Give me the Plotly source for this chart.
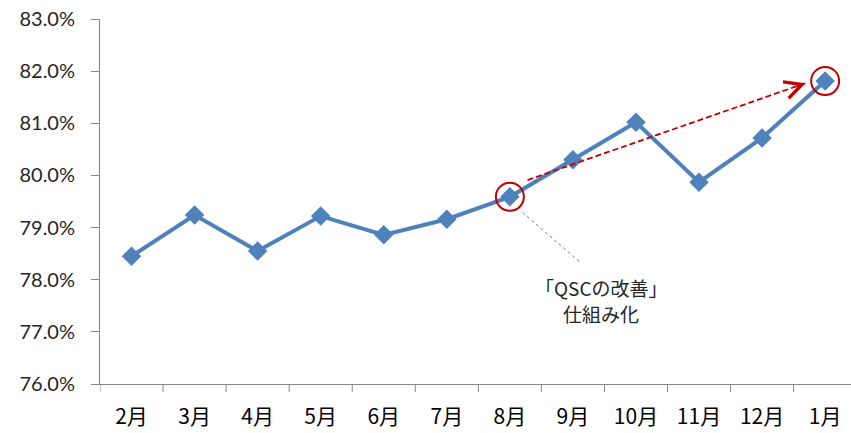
import plotly.graph_objects as go

# Monthly ratio (%) from February through January
months = ["2月", "3月", "4月", "5月", "6月", "7月", "8月", "9月", "10月", "11月", "12月", "1月"]
ratio = [78.45, 79.24, 78.55, 79.22, 78.86, 79.16, 79.59, 80.30, 81.02, 79.87, 80.72, 81.81]

y_ticks = [76, 77, 78, 79, 80, 81, 82, 83]
y_tick_text = [f"{v:.1f}%" for v in y_ticks]

note_lines = ["「QSCの改善」", "仕組み化"]

line_blue = "#4F81BD"
dark_red = "#C00000"
axis_gray = "#868686"

start_i = months.index("8月")
end_i = months.index("1月")

fig = go.Figure()
fig.add_trace(go.Scatter(
    x=list(range(len(months))), y=ratio,
    mode="lines+markers",
    line=dict(color=line_blue, width=4),
    marker=dict(symbol="diamond", size=15, color=line_blue),
    hoverinfo="skip", showlegend=False,
))

shapes = []
# highlight circles around the start and end months
for i in (start_i, end_i):
    shapes.append(dict(
        type="circle", xref="x", yref="y",
        xsizemode="pixel", ysizemode="pixel",
        xanchor=i, yanchor=ratio[i],
        x0=-14, x1=14, y0=-14, y1=14,
        line=dict(color=dark_red, width=2),
    ))

# dashed trend arrow between the circled months
x_a, y_a = start_i + 0.28, ratio[start_i] + 0.32
x_b, y_b = end_i - 0.31, ratio[end_i] - 0.04
shapes.append(dict(
    type="line", xref="x", yref="y",
    x0=x_a, y0=y_a, x1=x_b, y1=y_b,
    line=dict(color=dark_red, width=1.8, dash="6px,3px"),
))

# leader line from the 8月 circle to the note
shapes.append(dict(
    type="line", xref="x", yref="y",
    x0=start_i + 0.2, y0=ratio[start_i] - 0.3,
    x1=start_i + 1.12, y1=ratio[start_i] - 1.26,
    line=dict(color="#7F7F7F", width=1, dash="dot"),
))

fig.update_layout(shapes=shapes)

dx = x_b - x_a
dy = y_b - y_a
fig.add_annotation(
    x=x_b, y=y_b, ax=x_b - dx * 0.05, ay=y_b - dy * 0.05,
    xref="x", yref="y", axref="x", ayref="y",
    text="", showarrow=True,
    arrowhead=5, arrowsize=2.6, arrowwidth=1.3, arrowcolor=dark_red,
)

for k, txt in enumerate(note_lines):
    fig.add_annotation(
        x=start_i + 1.45, y=ratio[start_i] - 1.74 - 0.5 * k,
        xref="x", yref="y",
        text=txt, showarrow=False,
        font=dict(family="Noto Sans CJK JP", size=19, color="#262626"),
        align="center",
    )

fig.update_layout(
    width=851, height=433,
    margin=dict(l=100, r=0, t=19, b=49),
    paper_bgcolor="white", plot_bgcolor="white",
    xaxis=dict(
        range=[-0.5, 11.41],
        tickmode="array",
        tickvals=list(range(len(months))),
        ticktext=months,
        showgrid=False, zeroline=False,
        showline=True, linecolor=axis_gray, linewidth=1,
        ticks="outside", ticklen=0,
        tickfont=dict(family="Noto Sans CJK JP", size=21, color="#000000"),
        ticklabelstandoff=14,
        automargin=False,
    ),
    yaxis=dict(
        range=[76, 83],
        tickmode="array", tickvals=y_ticks, ticktext=y_tick_text,
        showgrid=False, zeroline=False,
        showline=True, linecolor=axis_gray, linewidth=1,
        ticks="outside", ticklen=8, tickcolor=axis_gray,
        tickfont=dict(family="Lato", size=20, color="#262626"),
        ticklabelstandoff=12,
        automargin=False,
    ),
)

# category boundary tick marks along the x axis
for k in range(len(months) + 1):
    fig.add_shape(
        type="line", xref="x", yref="paper",
        x0=k - 0.5, x1=k - 0.5, y0=0, y1=-0.022,
        line=dict(color=axis_gray, width=1),
    )

fig.write_html("out.html")
